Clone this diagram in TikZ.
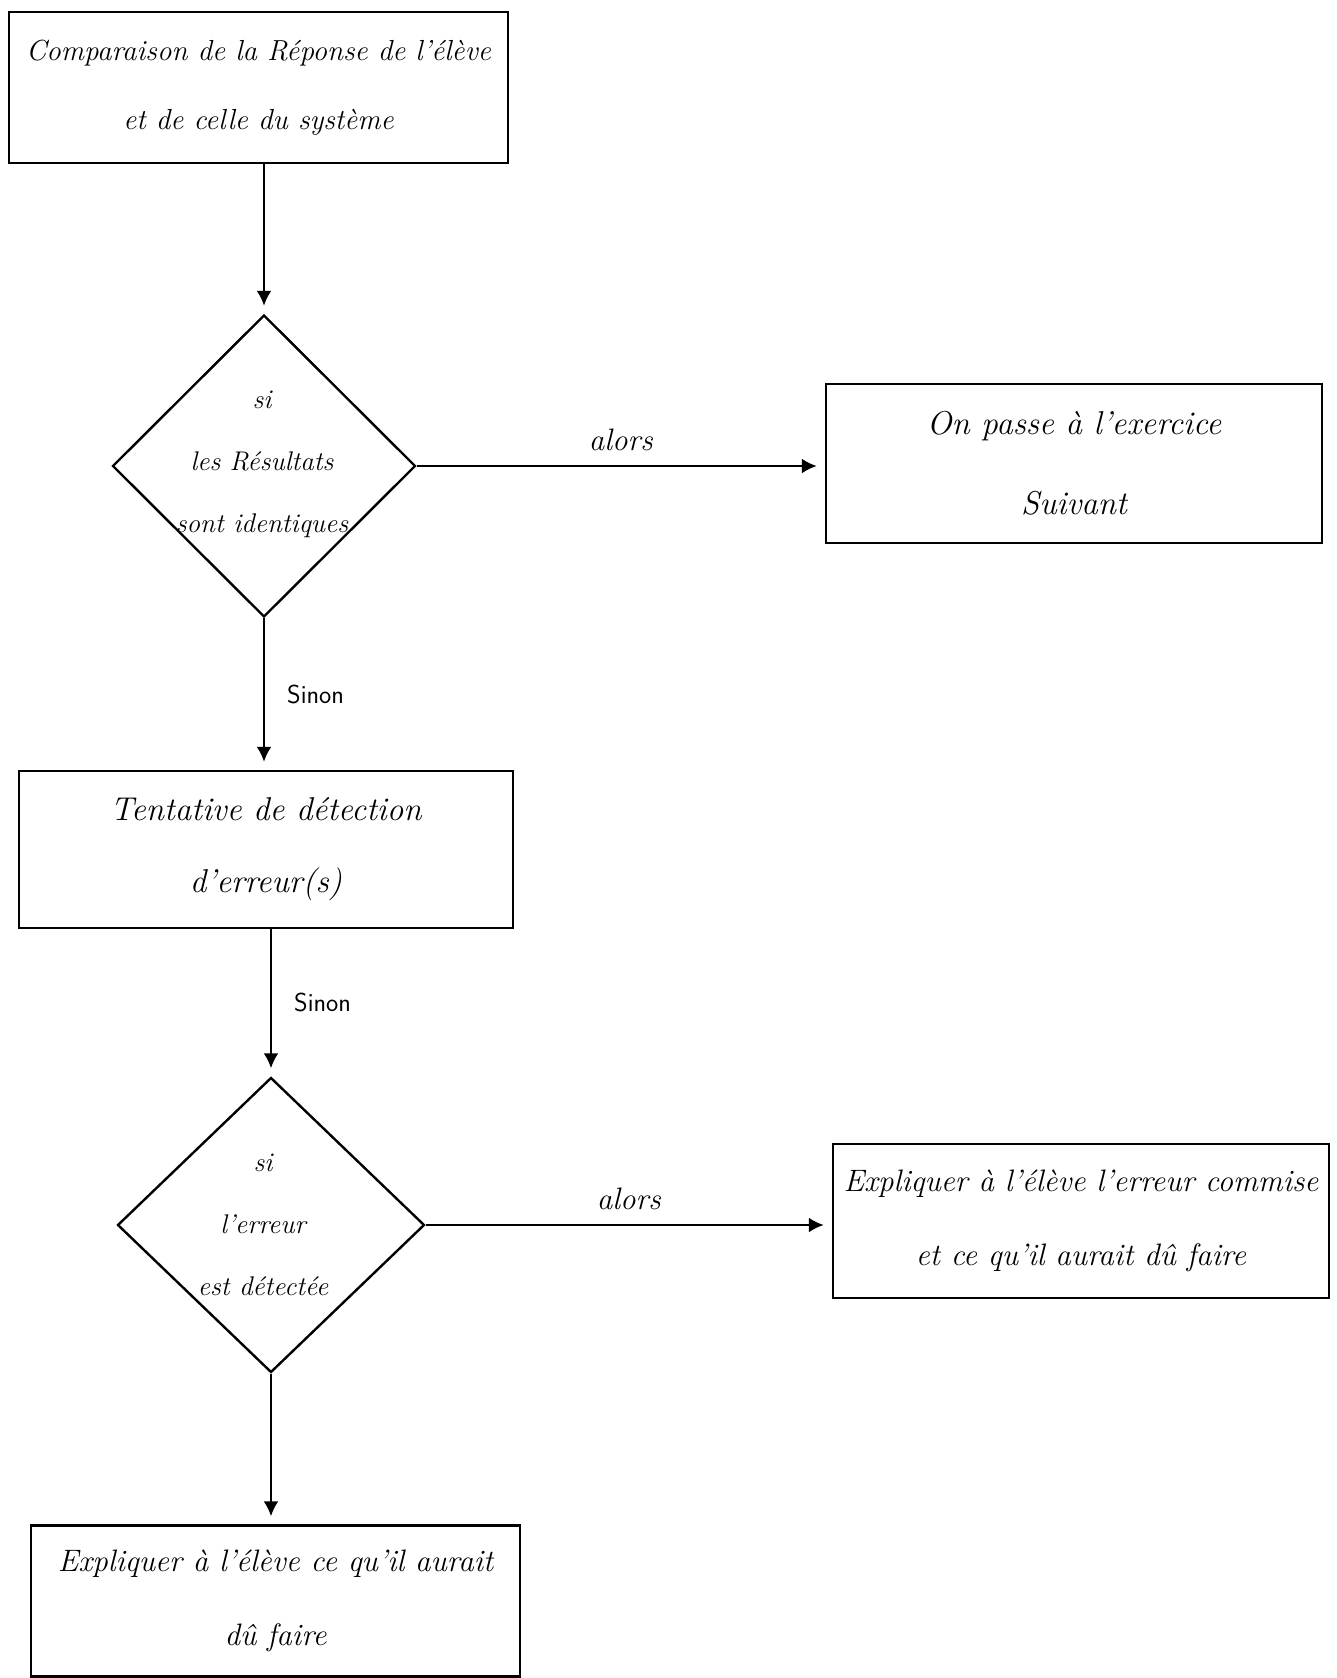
\documentclass[tikz,border=0pt]{standalone}
\usetikzlibrary{shapes.geometric,arrows.meta}
\begin{document}
\begin{tikzpicture}[x=1pt,y=-1pt,
  lw/.style={line width=2.4pt},
  box/.style={draw,lw,rectangle,inner sep=0pt,align=center,
    font=\fontsize{31}{74}\selectfont\itshape},
  dia/.style={draw,lw,diamond,inner sep=0pt,aspect=1},
  diatext/.style={align=center,inner sep=0pt,font=\fontsize{27}{62}\selectfont\itshape},
  arr/.style={lw,-{Latex[length=15pt,width=15pt]},shorten >=8pt},
  lab/.style={inner sep=0pt,font=\fontsize{31}{34}\selectfont\itshape},
  sinonlab/.style={inner sep=0pt,font=\fontsize{26}{28}\selectfont\sffamily}
]
\useasboundingbox[fill=white] (0,0) rectangle (1337,1678);

\node[box,minimum width=499pt,minimum height=151pt,
  font=\fontsize{29}{69}\selectfont\itshape] (b1) at (258.5,87.5)
  {Comparaison de la Réponse de l'élève\\et de celle du système};

\node[dia,minimum width=303pt,minimum height=302pt] (d1) at (264,466) {};
\node[diatext] (d1t) at (262,464) {si\\les Résultats\\sont identiques};

\node[box,minimum width=496pt,minimum height=159pt,
  font=\fontsize{33}{80}\selectfont\itshape] (b2) at (1074,463.5)
  {On passe à l'exercice\\Suivant};

\node[box,minimum width=494pt,minimum height=157pt,
  font=\fontsize{33}{72}\selectfont\itshape] (b3) at (266,849.5)
  {Tentative de détection\\d'erreur(s)};

\node[dia,minimum width=307pt,minimum height=295pt] (d2) at (271,1225) {};
\node[diatext] (d2t) at (263,1225) {si\\l'erreur\\est détectée};

\node[box,minimum width=496pt,minimum height=154pt] (b4) at (1081,1221)
  {Expliquer à l'élève l'erreur commise\\et ce qu'il aurait dû faire};

\node[box,minimum width=489pt,minimum height=151pt] (b5) at (275.5,1601)
  {Expliquer à l'élève ce qu'il aurait\\dû faire};

\draw[arr] (b1.south -| d1.north) -- (d1.north);
\draw[arr] (d1.east) -- (d1.east -| b2.west)
  node[lab,midway,above=14pt] (l1) {alors};
\draw[arr] (d1.south) -- (d1.south |- b3.north)
  node[sinonlab,midway,right=22pt] (s1) {Sinon};
\draw[arr] (b3.south -| d2.north) -- (d2.north)
  node[sinonlab,midway,right=22pt] (s2) {Sinon};
\draw[arr] (d2.east) -- (d2.east -| b4.west)
  node[lab,midway,above=14pt] (l2) {alors};
\draw[arr] (d2.south) -- (d2.south |- b5.north);
\end{tikzpicture}
\end{document}
